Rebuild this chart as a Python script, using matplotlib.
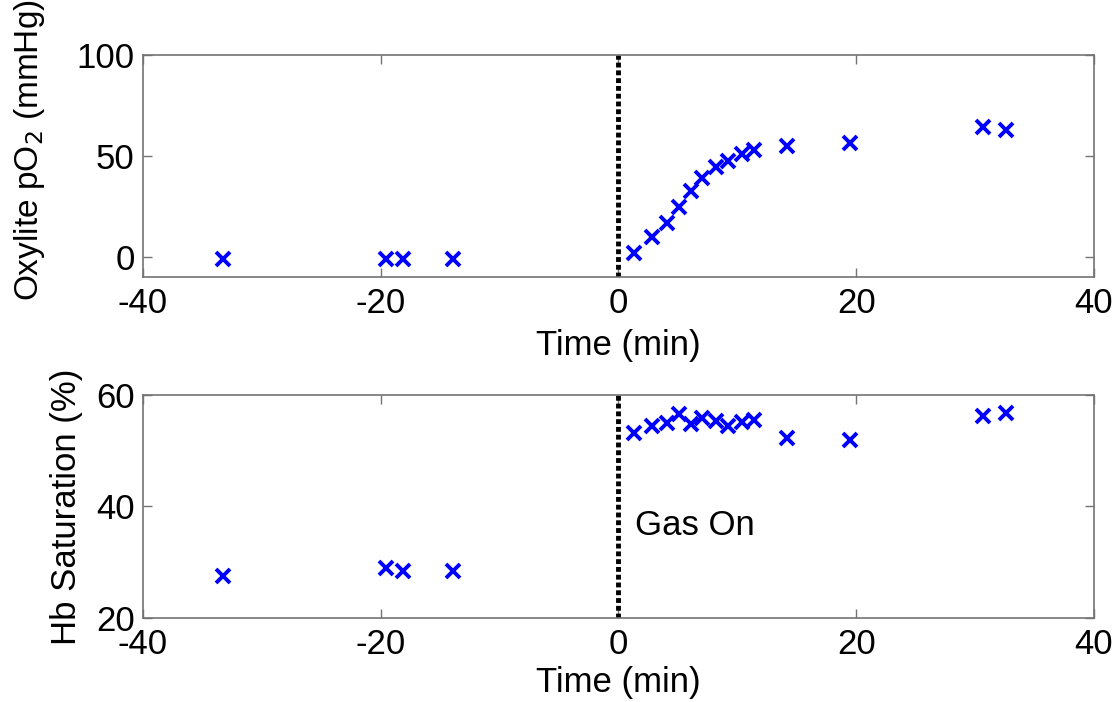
import matplotlib
matplotlib.use("Agg")
import matplotlib.pyplot as plt

plt.rcParams['font.family'] = ['Liberation Sans', 'DejaVu Sans']
plt.rcParams['axes.unicode_minus'] = False

# Data
time_min = [-33.3, -19.6, -18.1, -13.9, 1.3, 2.8, 4.1, 5.1, 6.1, 7.0, 8.2, 9.2, 10.4, 11.4, 14.2, 19.5, 30.7, 32.6]
oxylite_po2 = [-1, -1, -1, -1, 2.1, 9.7, 17.0, 24.6, 32.8, 39.0, 44.4, 47.7, 51.0, 53.0, 55.0, 56.6, 64.2, 63.0]
hb_sat = [27.6, 28.9, 28.4, 28.4, 53.1, 54.4, 54.9, 56.6, 54.8, 55.8, 55.4, 54.4, 55.1, 55.5, 52.3, 52.0, 56.3, 56.7]
gas_on_time = 0
xticks = [-40, -20, 0, 20, 40]
yticks_top = [0, 50, 100]
yticks_bot = [20, 40, 60]

fig = plt.figure(figsize=(11.12, 7.02), dpi=100)
ax1 = fig.add_axes([0.1286, 0.6054, 0.8552, 0.3163])
ax2 = fig.add_axes([0.1286, 0.1197, 0.8552, 0.3176])

spine_col = '0.45'
tick_fs = 25
label_fs = 25

def style(ax, xlab_y):
    for s in ax.spines.values():
        s.set_color(spine_col)
        s.set_linewidth(1.2)
    ax.tick_params(direction='in', length=6.5, width=1.0, color=spine_col,
                   top=True, right=True, labelsize=tick_fs, labelcolor='black')
    ax.tick_params(axis='x', pad=7)
    ax.tick_params(axis='y', pad=6)
    ax.set_xlim(-40, 40)
    ax.set_xticks(xticks)
    ax.set_xlabel('Time (min)', fontsize=label_fs)
    ax.xaxis.label.set_va('center')
    ax.xaxis.set_label_coords(0.5, xlab_y)

ax1.plot(time_min, oxylite_po2, linestyle='none', marker='x', color='#0000ff',
         markersize=10, markeredgewidth=2.8)
ax1.set_ylim(-10, 100)
ax1.set_yticks(yticks_top)
ax1.axvline(gas_on_time, color='black', linestyle=(0, (1, 0.6)), linewidth=3.5)
ax1.set_ylabel('Oxylite pO$_2$ (mmHg)', fontsize=24)
ax1.yaxis.label.set_va('center')
ax1.yaxis.set_label_coords(-0.119, 0.57)
style(ax1, -0.31)

ax2.plot(time_min, hb_sat, linestyle='none', marker='x', color='#0000ff',
         markersize=10, markeredgewidth=2.8)
ax2.set_ylim(20, 60)
ax2.set_yticks(yticks_bot)
ax2.axvline(gas_on_time, color='black', linestyle=(0, (1, 0.6)), linewidth=3.5)
ax2.text(1.4, 36.6, 'Gas On', fontsize=label_fs, va='center', ha='left')
ax2.set_ylabel('Hb Saturation (%)', fontsize=label_fs)
ax2.yaxis.label.set_va('center')
ax2.yaxis.set_label_coords(-0.08, 0.5)
style(ax2, -0.29)

fig.savefig('out.png', dpi=100)
